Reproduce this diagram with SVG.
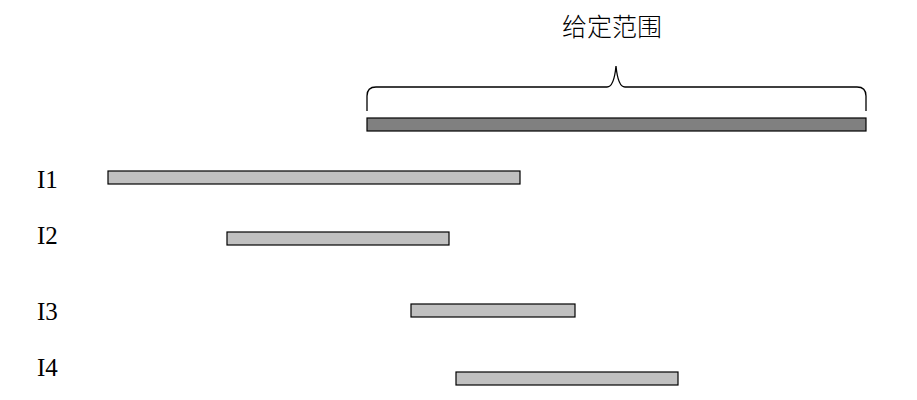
<svg xmlns="http://www.w3.org/2000/svg" width="917" height="400" viewBox="0 0 917 400">
<style>
.bar{fill:#c0c0c0;stroke:#000;stroke-width:1.2}
.lbl{font-family:"Liberation Serif",serif;font-size:25px;fill:#000}
</style>
<rect width="917" height="400" fill="#fff"/>
<text x="612" y="36" text-anchor="middle" style="font-family:'Noto Sans CJK SC',sans-serif;font-size:25px;font-weight:300">给定范围</text>
<g id="brace"><path d="M367,111 V96 Q367,87 376,87 H607 Q614,87 616,66 Q618,87 625,87 H857 Q866,87 866,96 V111" fill="none" stroke="#000" stroke-width="1.3"/></g>
<g id="range"><rect x="367" y="118" width="499" height="13" fill="#808080" stroke="#000" stroke-width="1.2"/></g>
<g id="I1"><text class="lbl" x="37" y="188">I1</text><rect class="bar" x="108" y="171" width="412" height="13"/></g>
<g id="I2"><text class="lbl" x="37" y="244">I2</text><rect class="bar" x="227" y="232" width="222" height="13"/></g>
<g id="I3"><text class="lbl" x="37" y="320">I3</text><rect class="bar" x="411" y="304" width="164" height="13"/></g>
<g id="I4"><text class="lbl" x="37" y="376">I4</text><rect class="bar" x="456" y="372" width="222" height="13"/></g>
<g id="connectors"/>
</svg>
